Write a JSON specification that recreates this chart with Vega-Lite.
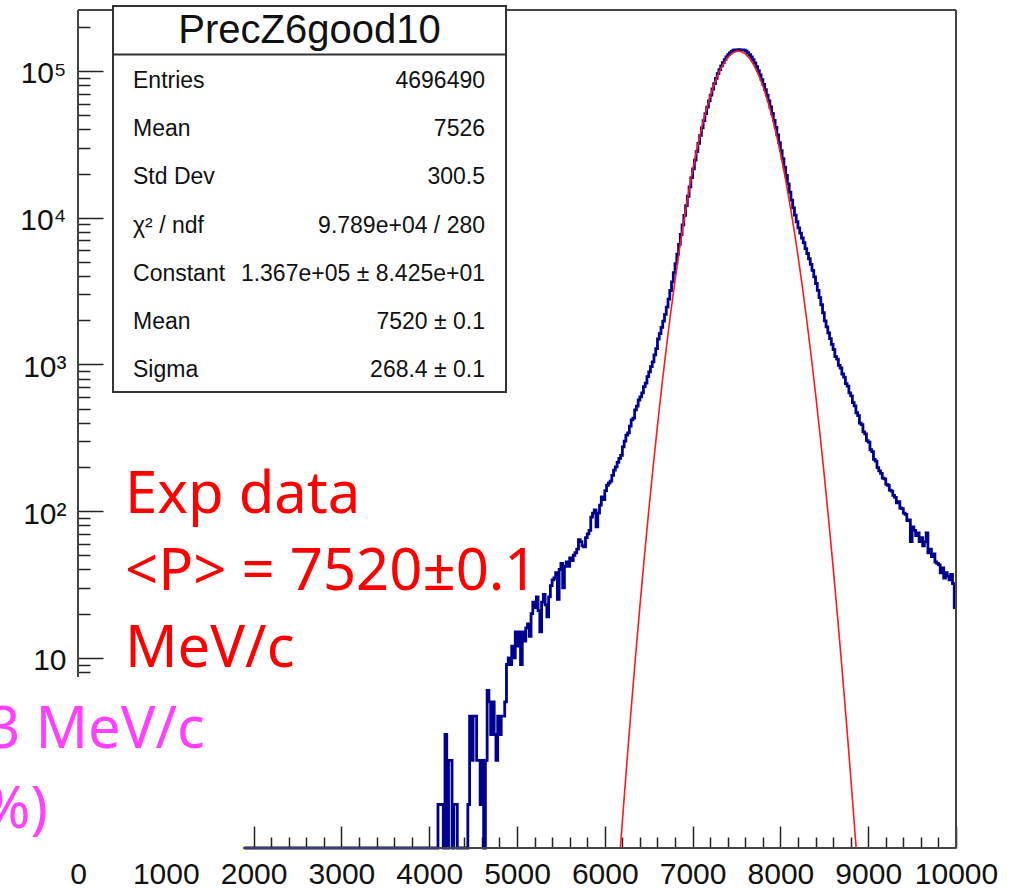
{
"$schema":"https://vega.github.io/schema/vega-lite/v6.json",
"width":878,"height":838,"autosize":"none",
"padding":{"left":78,"top":10,"right":66,"bottom":40},
"background":"white",
"config":{"view":{"stroke":null},"axis":{"grid":false,"domain":false,"title":null,"labelFlush":false,"labelOverlap":false,"labelBound":false,"tickColor":"#222","tickWidth":1.5,"labelFont":"Liberation Sans","labelFontSize":30,"labelColor":"#111"}},
"datasets":{
"hist":[{"p":1890,"n":0},{"p":4090,"n":0},{"p":4110,"n":1},{"p":4130,"n":1},{"p":4150,"n":1},{"p":4170,"n":0},{"p":4190,"n":3},{"p":4210,"n":0},{"p":4230,"n":2},{"p":4250,"n":2},{"p":4270,"n":0},{"p":4290,"n":1},{"p":4310,"n":1},{"p":4330,"n":0},{"p":4350,"n":0},{"p":4370,"n":0},{"p":4390,"n":0},{"p":4410,"n":0},{"p":4430,"n":0},{"p":4450,"n":1},{"p":4470,"n":4},{"p":4490,"n":2},{"p":4510,"n":4},{"p":4530,"n":4},{"p":4550,"n":2},{"p":4570,"n":2},{"p":4590,"n":1},{"p":4610,"n":2},{"p":4630,"n":0},{"p":4650,"n":2},{"p":4670,"n":6},{"p":4690,"n":5},{"p":4710,"n":3},{"p":4730,"n":5},{"p":4750,"n":3},{"p":4770,"n":2},{"p":4790,"n":4},{"p":4810,"n":3},{"p":4830,"n":4},{"p":4850,"n":4},{"p":4870,"n":5},{"p":4890,"n":9},{"p":4910,"n":10},{"p":4930,"n":9},{"p":4950,"n":12},{"p":4970,"n":10},{"p":4990,"n":15},{"p":5010,"n":12},{"p":5030,"n":15},{"p":5050,"n":9},{"p":5070,"n":15},{"p":5090,"n":13},{"p":5110,"n":16},{"p":5130,"n":17},{"p":5150,"n":14},{"p":5170,"n":20},{"p":5190,"n":24},{"p":5210,"n":22},{"p":5230,"n":26},{"p":5250,"n":21},{"p":5270,"n":15},{"p":5290,"n":24},{"p":5310,"n":27},{"p":5330,"n":23},{"p":5350,"n":19},{"p":5370,"n":26},{"p":5390,"n":31},{"p":5410,"n":34},{"p":5430,"n":35},{"p":5450,"n":38},{"p":5470,"n":25},{"p":5490,"n":40},{"p":5510,"n":44},{"p":5530,"n":30},{"p":5550,"n":42},{"p":5570,"n":45},{"p":5590,"n":42},{"p":5610,"n":48},{"p":5630,"n":46},{"p":5650,"n":50},{"p":5670,"n":52},{"p":5690,"n":55},{"p":5710,"n":64},{"p":5730,"n":62},{"p":5750,"n":58},{"p":5770,"n":57},{"p":5790,"n":66},{"p":5810,"n":70},{"p":5830,"n":74},{"p":5850,"n":91},{"p":5870,"n":97},{"p":5890,"n":102},{"p":5910,"n":78},{"p":5930,"n":97},{"p":5950,"n":110},{"p":5970,"n":125},{"p":5990,"n":120},{"p":6010,"n":138},{"p":6030,"n":150},{"p":6050,"n":155},{"p":6070,"n":160},{"p":6090,"n":175},{"p":6110,"n":190},{"p":6130,"n":200},{"p":6150,"n":215},{"p":6170,"n":229},{"p":6190,"n":240},{"p":6210,"n":274},{"p":6230,"n":300},{"p":6250,"n":330},{"p":6270,"n":341},{"p":6290,"n":380},{"p":6310,"n":419},{"p":6330,"n":430},{"p":6350,"n":490},{"p":6370,"n":520},{"p":6390,"n":572},{"p":6410,"n":600},{"p":6430,"n":640},{"p":6450,"n":705},{"p":6470,"n":745},{"p":6490,"n":825},{"p":6510,"n":890},{"p":6530,"n":965},{"p":6550,"n":1040},{"p":6570,"n":1160},{"p":6590,"n":1280},{"p":6610,"n":1490},{"p":6630,"n":1620},{"p":6650,"n":1790},{"p":6670,"n":1970},{"p":6690,"n":2190},{"p":6710,"n":2460},{"p":6730,"n":2790},{"p":6750,"n":3190},{"p":6770,"n":3650},{"p":6790,"n":4220},{"p":6810,"n":4870},{"p":6830,"n":5650},{"p":6850,"n":6580},{"p":6870,"n":7680},{"p":6890,"n":8920},{"p":6910,"n":10380},{"p":6930,"n":12070},{"p":6950,"n":14000},{"p":6970,"n":16220},{"p":6990,"n":18730},{"p":7010,"n":21550},{"p":7030,"n":24690},{"p":7050,"n":28170},{"p":7070,"n":32110},{"p":7090,"n":36380},{"p":7110,"n":40990},{"p":7130,"n":45930},{"p":7150,"n":51180},{"p":7170,"n":56720},{"p":7190,"n":62510},{"p":7210,"n":68500},{"p":7230,"n":75400},{"p":7250,"n":82130},{"p":7270,"n":88930},{"p":7290,"n":95800},{"p":7310,"n":102100},{"p":7330,"n":108220},{"p":7350,"n":114100},{"p":7370,"n":119550},{"p":7390,"n":124670},{"p":7410,"n":129270},{"p":7430,"n":132600},{"p":7450,"n":135930},{"p":7470,"n":138600},{"p":7490,"n":139260},{"p":7510,"n":139500},{"p":7530,"n":139600},{"p":7550,"n":139300},{"p":7570,"n":139000},{"p":7590,"n":138630},{"p":7610,"n":136580},{"p":7630,"n":133240},{"p":7650,"n":129270},{"p":7670,"n":124670},{"p":7690,"n":119550},{"p":7710,"n":113570},{"p":7730,"n":107180},{"p":7750,"n":100630},{"p":7770,"n":93960},{"p":7790,"n":87220},{"p":7810,"n":80940},{"p":7830,"n":74660},{"p":7850,"n":68500},{"p":7870,"n":62510},{"p":7890,"n":56820},{"p":7910,"n":51330},{"p":7930,"n":46130},{"p":7950,"n":41240},{"p":7970,"n":36680},{"p":7990,"n":32510},{"p":8010,"n":28670},{"p":8030,"n":25240},{"p":8050,"n":22150},{"p":8070,"n":19430},{"p":8090,"n":17020},{"p":8110,"n":14950},{"p":8130,"n":13165},{"p":8150,"n":11680},{"p":8170,"n":10420},{"p":8190,"n":9380},{"p":8210,"n":8530},{"p":8230,"n":7850},{"p":8250,"n":7270},{"p":8270,"n":6770},{"p":8290,"n":6150},{"p":8310,"n":5700},{"p":8330,"n":5250},{"p":8350,"n":4800},{"p":8370,"n":4380},{"p":8390,"n":3950},{"p":8410,"n":3560},{"p":8430,"n":3200},{"p":8450,"n":2850},{"p":8470,"n":2550},{"p":8490,"n":2250},{"p":8510,"n":1980},{"p":8530,"n":1800},{"p":8550,"n":1640},{"p":8570,"n":1500},{"p":8590,"n":1370},{"p":8610,"n":1260},{"p":8630,"n":1130},{"p":8650,"n":1085},{"p":8670,"n":985},{"p":8690,"n":945},{"p":8710,"n":860},{"p":8730,"n":820},{"p":8750,"n":740},{"p":8770,"n":710},{"p":8790,"n":640},{"p":8810,"n":610},{"p":8830,"n":548},{"p":8850,"n":522},{"p":8870,"n":468},{"p":8890,"n":447},{"p":8910,"n":398},{"p":8930,"n":388},{"p":8950,"n":347},{"p":8970,"n":336},{"p":8990,"n":302},{"p":9010,"n":295},{"p":9030,"n":262},{"p":9050,"n":254},{"p":9070,"n":225},{"p":9090,"n":219},{"p":9110,"n":198},{"p":9130,"n":188},{"p":9150,"n":181},{"p":9170,"n":168},{"p":9190,"n":166},{"p":9210,"n":152},{"p":9230,"n":150},{"p":9250,"n":139},{"p":9270,"n":137},{"p":9290,"n":128},{"p":9310,"n":124},{"p":9330,"n":114},{"p":9350,"n":116},{"p":9370,"n":105},{"p":9390,"n":104},{"p":9410,"n":97},{"p":9430,"n":95},{"p":9450,"n":86},{"p":9470,"n":87},{"p":9490,"n":62},{"p":9510,"n":78},{"p":9530,"n":74},{"p":9550,"n":68},{"p":9570,"n":71},{"p":9590,"n":62},{"p":9610,"n":66},{"p":9630,"n":58},{"p":9650,"n":62},{"p":9670,"n":71},{"p":9690,"n":52},{"p":9710,"n":55},{"p":9730,"n":49},{"p":9750,"n":51},{"p":9770,"n":45},{"p":9790,"n":44},{"p":9810,"n":43},{"p":9830,"n":38},{"p":9850,"n":41},{"p":9870,"n":35},{"p":9890,"n":38},{"p":9910,"n":36},{"p":9930,"n":34},{"p":9950,"n":37},{"p":9970,"n":32},{"p":9990,"n":22}],
"fit":[{"p":6177,"n":0.5},{"p":6200,"n":0.765},{"p":6250,"n":1.88},{"p":6300,"n":4.46},{"p":6350,"n":10.2},{"p":6400,"n":22.6},{"p":6450,"n":48.4},{"p":6500,"n":99.9},{"p":6550,"n":199},{"p":6600,"n":384},{"p":6650,"n":715},{"p":6700,"n":1285},{"p":6750,"n":2232},{"p":6800,"n":3743},{"p":6850,"n":6062},{"p":6900,"n":9487},{"p":6950,"n":14337},{"p":7000,"n":20930},{"p":7050,"n":29500},{"p":7100,"n":40190},{"p":7150,"n":52860},{"p":7200,"n":67160},{"p":7250,"n":82450},{"p":7300,"n":97700},{"p":7350,"n":111900},{"p":7400,"n":123700},{"p":7450,"n":132130},{"p":7500,"n":136320},{"p":7520,"n":136700},{"p":7550,"n":135850},{"p":7600,"n":130750},{"p":7650,"n":121600},{"p":7700,"n":109200},{"p":7750,"n":94690},{"p":7800,"n":79360},{"p":7850,"n":64190},{"p":7900,"n":50180},{"p":7950,"n":37890},{"p":8000,"n":27620},{"p":8050,"n":19460},{"p":8100,"n":13240},{"p":8150,"n":8697},{"p":8200,"n":5521},{"p":8250,"n":3384},{"p":8300,"n":2004},{"p":8350,"n":1146},{"p":8400,"n":633},{"p":8450,"n":338},{"p":8500,"n":174},{"p":8550,"n":86.7},{"p":8600,"n":41.7},{"p":8650,"n":19.4},{"p":8700,"n":8.68},{"p":8750,"n":3.76},{"p":8800,"n":1.57},{"p":8850,"n":0.637},{"p":8863,"n":0.5}],
"redtext":[{"p":535,"n":97,"t":"Exp data"},{"p":535,"n":29,"t":"<P> = 7520±0.1"},{"p":535,"n":8.7,"t":"MeV/c"}],
"magtext":[{"p":1446,"n":2.43,"t":"3 MeV/c"},{"p":-342,"n":0.69,"t":"%)"}],
"stats":[{"r":1,"label":"Entries","val":"4696490"},{"r":2,"label":"Mean","val":"7526"},{"r":3,"label":"Std Dev","val":"300.5"},{"r":4,"label":"χ² / ndf","val":"9.789e+04 / 280"},{"r":5,"label":"Constant","val":"1.367e+05 ± 8.425e+01"},{"r":6,"label":"Mean","val":"7520 ± 0.1"},{"r":7,"label":"Sigma","val":"268.4 ± 0.1"}],
"stitle":[{"r":0,"label":"PrecZ6good10"}]
},
"layer":[
{"layer":[
 {"data":{"name":"hist"},
  "mark":{"type":"line","interpolate":"step","color":"#00008f","strokeWidth":2.8},
  "encoding":{
   "x":{"field":"p","type":"quantitative","scale":{"domain":[0,10000],"nice":false,"zero":false},
    "axis":{"orient":"bottom","values":[0,1000,2000,3000,4000,5000,6000,7000,8000,9000,10000],"ticks":false,"format":"d","labelAngle":0,"labelBaseline":"alphabetic","labelPadding":35}},
   "y":{"field":"n","type":"quantitative","scale":{"type":"log","domain":[0.5053,260450],"nice":false,"clamp":true},
    "axis":{"orient":"left","values":[10,100,1000,10000,100000],"ticks":false,
     "labelExpr":"datum.value === 10 ? '10' : datum.value === 100 ? '10²' : datum.value === 1000 ? '10³' : datum.value === 10000 ? '10⁴' : '10⁵'",
     "labelAlign":"right","labelBaseline":"middle","labelPadding":12,"labelOffset":3}}
  }},
 {"data":{"name":"fit"},
  "mark":{"type":"line","color":"#ff1a1a","strokeWidth":1.6},
  "encoding":{
   "x":{"field":"p","type":"quantitative","scale":{"domain":[0,10000],"nice":false,"zero":false},
    "axis":{"orient":"bottom","values":[2000,3000,4000,5000,6000,7000,8000,9000,10000],"labels":false,"tickSize":-22}},
   "y":{"field":"n","type":"quantitative","scale":{"type":"log","domain":[0.5053,260450],"nice":false,"clamp":true},
    "axis":{"orient":"left","values":[10,100,1000,10000,100000],"labels":false,"tickSize":-25}}}},
 {"data":{"values":[{}]},"mark":{"type":"rule","color":"#444","strokeWidth":2},
  "encoding":{"x":{"datum":0,"type":"quantitative","scale":{"domain":[0,10000],"nice":false,"zero":false},
    "axis":{"orient":"bottom","values":[2200,2400,2600,2800,3200,3400,3600,3800,4200,4400,4600,4800,5200,5400,5600,5800,6200,6400,6600,6800,7200,7400,7600,7800,8200,8400,8600,8800,9200,9400,9600,9800],"labels":false,"tickSize":-11}},
   "y":{"datum":7.4,"type":"quantitative","scale":{"type":"log","domain":[0.5053,260450],"nice":false,"clamp":true},
    "axis":{"orient":"left","values":[8,9,20,30,40,50,60,70,80,90,200,300,400,500,600,700,800,900,2000,3000,4000,5000,6000,7000,8000,9000,20000,30000,40000,50000,60000,70000,80000,90000,200000],"labels":false,"tickSize":-12}},
   "y2":{"datum":260450}}},
 {"data":{"values":[{}]},"mark":{"type":"rule","color":"#444","strokeWidth":2},
  "encoding":{"x":{"datum":0,"type":"quantitative","scale":{"domain":[0,10000],"nice":false,"zero":false},"axis":null},"x2":{"datum":10000},
   "y":{"datum":260450,"type":"quantitative","scale":{"type":"log","domain":[0.5053,260450],"nice":false,"clamp":true},"axis":null}}},
 {"data":{"values":[{}]},"mark":{"type":"rule","color":"#444","strokeWidth":2},
  "encoding":{"x":{"datum":10000,"type":"quantitative","scale":{"domain":[0,10000],"nice":false,"zero":false},"axis":null},
   "y":{"datum":0.5053,"type":"quantitative","scale":{"type":"log","domain":[0.5053,260450],"nice":false,"clamp":true},"axis":null},"y2":{"datum":260450}}},
 {"data":{"values":[{}]},"mark":{"type":"rule","color":"#444","strokeWidth":2},
  "encoding":{"x":{"datum":1880,"type":"quantitative","scale":{"domain":[0,10000],"nice":false,"zero":false},"axis":null},"x2":{"datum":10000},
   "y":{"datum":0.5053,"type":"quantitative","scale":{"type":"log","domain":[0.5053,260450],"nice":false,"clamp":true},"axis":null}}},
 {"data":{"name":"redtext"},
  "mark":{"type":"text","align":"left","baseline":"alphabetic","font":"Noto Sans","fontSize":58,"color":"#ff0000"},
  "encoding":{"x":{"field":"p","type":"quantitative","scale":{"domain":[0,10000],"nice":false,"zero":false},"axis":null},
   "y":{"field":"n","type":"quantitative","scale":{"type":"log","domain":[0.5053,260450],"nice":false,"clamp":true},"axis":null},
   "text":{"field":"t"}}},
 {"data":{"name":"magtext"},
  "mark":{"type":"text","align":"right","baseline":"alphabetic","font":"Noto Sans","fontSize":58,"color":"#ff40ff"},
  "encoding":{"x":{"field":"p","type":"quantitative","scale":{"domain":[0,10000],"nice":false,"zero":false},"axis":null},
   "y":{"field":"n","type":"quantitative","scale":{"type":"log","domain":[0.5053,260450],"nice":false,"clamp":true},"axis":null},
   "text":{"field":"t"}}}
],
"resolve":{"axis":{"x":"independent","y":"independent"}}},
{"layer":[
 {"data":{"values":[{}]},"mark":{"type":"rect","fill":"white","stroke":"#333","strokeWidth":2},
  "encoding":{"x":{"datum":0,"type":"quantitative","scale":{"domain":[-0.0891,2.145],"nice":false,"zero":false},"axis":null},"x2":{"datum":1},
   "y":{"datum":-0.701,"type":"quantitative","scale":{"domain":[-0.6183,16.768],"nice":false,"zero":false,"reverse":true},"axis":null},"y2":{"datum":7.307}}},
 {"data":{"values":[{}]},"mark":{"type":"rule","color":"#333","strokeWidth":2},
  "encoding":{"x":{"datum":0,"type":"quantitative","scale":{"domain":[-0.0891,2.145],"nice":false,"zero":false},"axis":null},"x2":{"datum":1},
   "y":{"datum":0.307,"type":"quantitative","scale":{"domain":[-0.6183,16.768],"nice":false,"zero":false,"reverse":true},"axis":null}}},
 {"data":{"name":"stitle"},
  "mark":{"type":"text","align":"center","baseline":"alphabetic","font":"Liberation Sans","fontSize":40,"color":"#111","dy":3},
  "encoding":{"x":{"datum":0.5,"type":"quantitative","scale":{"domain":[-0.0891,2.145],"nice":false,"zero":false},"axis":null},
   "y":{"field":"r","type":"quantitative","scale":{"domain":[-0.6183,16.768],"nice":false,"zero":false,"reverse":true},"axis":null},
   "text":{"field":"label"}}},
 {"data":{"name":"stats"},
  "mark":{"type":"text","align":"left","baseline":"alphabetic","font":"Liberation Sans","fontSize":23,"color":"#111"},
  "encoding":{"x":{"datum":0.0509,"type":"quantitative","scale":{"domain":[-0.0891,2.145],"nice":false,"zero":false},"axis":null},
   "y":{"field":"r","type":"quantitative","scale":{"domain":[-0.6183,16.768],"nice":false,"zero":false,"reverse":true},"axis":null},
   "text":{"field":"label"}}},
 {"data":{"name":"stats"},
  "mark":{"type":"text","align":"right","baseline":"alphabetic","font":"Liberation Sans","fontSize":23,"color":"#111"},
  "encoding":{"x":{"datum":0.9466,"type":"quantitative","scale":{"domain":[-0.0891,2.145],"nice":false,"zero":false},"axis":null},
   "y":{"field":"r","type":"quantitative","scale":{"domain":[-0.6183,16.768],"nice":false,"zero":false,"reverse":true},"axis":null},
   "text":{"field":"val"}}}
]}
],
"resolve":{"scale":{"x":"independent","y":"independent"}}
}
